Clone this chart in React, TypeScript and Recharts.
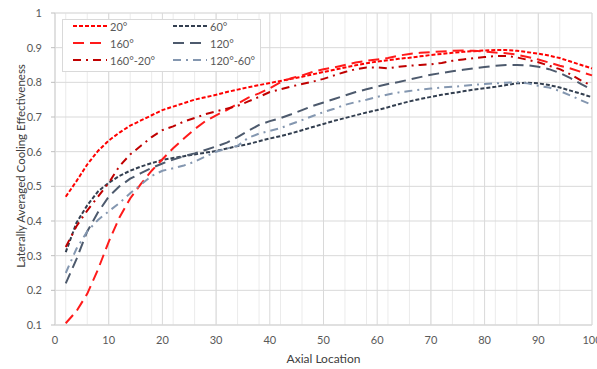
import React from "react";
import {
  LineChart,
  Line,
  XAxis,
  YAxis,
  CartesianGrid,
  Legend,
} from "recharts";

// ---- data ----
const axial: number[] = [
  2, 4, 6, 8, 10, 12, 14, 16, 18, 20, 22, 24, 26, 28, 30, 32, 34, 36, 38, 40,
  42, 44, 46, 48, 50, 52, 54, 56, 58, 60, 62, 64, 66, 68, 70, 72, 74, 76, 78, 80,
  82, 84, 86, 88, 90, 92, 94, 96, 98, 100,
];

const deg20: number[] = [
  0.47, 0.515, 0.563, 0.602, 0.632, 0.655, 0.675, 0.69, 0.705, 0.72, 0.73, 0.74,
  0.75, 0.757, 0.764, 0.772, 0.779, 0.786, 0.792, 0.798, 0.804, 0.81, 0.816,
  0.823, 0.83, 0.836, 0.843, 0.849, 0.855, 0.86, 0.864, 0.868, 0.871, 0.875,
  0.879, 0.882, 0.885, 0.888, 0.89, 0.892, 0.893, 0.893, 0.891, 0.887, 0.883,
  0.877, 0.87, 0.86, 0.85, 0.84,
];

const deg160: number[] = [
  0.105, 0.14, 0.19, 0.26, 0.34, 0.41, 0.465, 0.507, 0.545, 0.578, 0.61, 0.638,
  0.665, 0.688, 0.705, 0.72, 0.738, 0.756, 0.768, 0.783, 0.8, 0.812, 0.82, 0.83,
  0.838, 0.843, 0.85, 0.857, 0.862, 0.866, 0.87, 0.877, 0.882, 0.885, 0.887,
  0.889, 0.891, 0.892, 0.891, 0.889, 0.886, 0.884, 0.88, 0.873, 0.866, 0.857,
  0.848, 0.84, 0.83, 0.82,
];

const deg160m20: number[] = [
  0.325, 0.385, 0.43, 0.47, 0.51, 0.558, 0.592, 0.617, 0.642, 0.662, 0.673,
  0.687, 0.697, 0.708, 0.716, 0.724, 0.732, 0.745, 0.758, 0.772, 0.78, 0.788,
  0.795, 0.802, 0.81, 0.82, 0.83, 0.838, 0.843, 0.843, 0.84, 0.845, 0.848, 0.85,
  0.852, 0.856, 0.862, 0.866, 0.87, 0.873, 0.876, 0.876, 0.872, 0.865, 0.858,
  0.848, 0.838, 0.823, 0.805, 0.79,
];

const deg60: number[] = [
  0.31, 0.395, 0.445, 0.485, 0.51, 0.53, 0.545, 0.557, 0.567, 0.576, 0.582,
  0.587, 0.592, 0.597, 0.602, 0.609, 0.616, 0.622, 0.63, 0.638, 0.645, 0.653,
  0.662, 0.671, 0.68, 0.689, 0.697, 0.705, 0.713, 0.72, 0.728, 0.737, 0.745,
  0.752, 0.758, 0.764, 0.769, 0.774, 0.779, 0.783, 0.787, 0.792, 0.797, 0.799,
  0.797, 0.792, 0.785, 0.776, 0.767, 0.757,
];

const deg120: number[] = [
  0.22, 0.29, 0.37, 0.425, 0.47, 0.5, 0.522, 0.538, 0.553, 0.566, 0.577, 0.587,
  0.595, 0.605, 0.615, 0.626, 0.642, 0.66, 0.677, 0.688, 0.697, 0.708, 0.72,
  0.732, 0.742, 0.752, 0.762, 0.772, 0.78, 0.788, 0.795, 0.801, 0.808, 0.815,
  0.822, 0.827, 0.832, 0.836, 0.84, 0.844, 0.848, 0.85, 0.85, 0.849, 0.845,
  0.838, 0.827, 0.812, 0.795, 0.778,
];

const deg120m60: number[] = [
  0.25, 0.32, 0.37, 0.403, 0.428, 0.452, 0.48, 0.505, 0.53, 0.545, 0.552, 0.56,
  0.571, 0.586, 0.6, 0.609, 0.617, 0.64, 0.652, 0.66, 0.668, 0.68, 0.691, 0.703,
  0.714, 0.724, 0.735, 0.743, 0.75, 0.758, 0.765, 0.771, 0.775, 0.779, 0.782,
  0.785, 0.787, 0.79, 0.793, 0.795, 0.797, 0.799, 0.8, 0.797, 0.79, 0.785, 0.775,
  0.762, 0.748, 0.735,
];

const xTicks: number[] = [0, 10, 20, 30, 40, 50, 60, 70, 80, 90, 100];
const yTicks: number[] = [0.1, 0.2, 0.3, 0.4, 0.5, 0.6, 0.7, 0.8, 0.9, 1];
const xMinorTicks: number[] = Array.from({ length: 51 }, (_, i) => i * 2);
const yMinorTicks: number[] = Array.from({ length: 46 }, (_, i) =>
  Math.round((0.1 + i * 0.02) * 1000) / 1000
);

const xTitle = "Axial Location";
const yTitle = "Laterally Averaged Cooling Effectiveness";

// ---- series styles ----
type SeriesDef = {
  key: string;
  name: string;
  values: number[];
  color: string;
  dash: string;
};

const SHORT = "4 2";
const LONG = "11 6";
const DASHDOT = "8 5 2 5";

const series: SeriesDef[] = [
  { key: "s20", name: "20°", values: deg20, color: "#ff0000", dash: SHORT },
  { key: "s60", name: "60°", values: deg60, color: "#333f50", dash: SHORT },
  { key: "s160", name: "160°", values: deg160, color: "#ff1a1a", dash: LONG },
  { key: "s120", name: "120°", values: deg120, color: "#4d5a6d", dash: LONG },
  { key: "s160m20", name: "160°-20°", values: deg160m20, color: "#c00000", dash: DASHDOT },
  { key: "s120m60", name: "120°-60°", values: deg120m60, color: "#8497b0", dash: DASHDOT },
];

const data = axial.map((x, i) => {
  const row: Record<string, number> = { x };
  series.forEach((s) => {
    row[s.key] = s.values[i];
  });
  return row;
});

const FONT = "Lato, 'Open Sans', sans-serif";
const TEXT = "#595959";

const LegendBox = () => {
  const rows = [0, 1, 2];
  return (
    <div
      style={{
        width: 199,
        height: 53,
        border: "1px solid #d9d9d9",
        background: "#ffffff",
        boxSizing: "border-box",
        position: "relative",
        fontFamily: FONT,
        fontSize: 11,
        color: TEXT,
      }}
    >
      <svg width={197} height={51} style={{ position: "absolute", left: 0, top: 0 }}>
        {rows.map((r) =>
          [0, 1].map((c) => {
            const s = series[r * 2 + c];
            const y = 6 + r * 17;
            const x0 = c === 0 ? 10 : 110;
            return (
              <g key={s.key}>
                <line
                  x1={x0}
                  x2={x0 + 34}
                  y1={y}
                  y2={y}
                  stroke={s.color}
                  strokeWidth={2}
                  strokeDasharray={s.dash}
                />
                <text
                  x={x0 + 37}
                  y={y}
                  dominantBaseline="central"
                  fontFamily={FONT}
                  fontSize={11}
                  fill={TEXT}
                >
                  {s.name}
                </text>
              </g>
            );
          })
        )}
      </svg>
    </div>
  );
};

const YTitle = (props: any) => {
  const vb = props.viewBox || { x: 0, y: 0, width: 0, height: 0 };
  const cx = vb.x + 20;
  const cy = vb.y + vb.height / 2 - 3;
  return (
    <text
      x={cx}
      y={cy}
      transform={`rotate(-90, ${cx}, ${cy})`}
      textAnchor="middle"
      dominantBaseline="central"
      fontFamily={FONT}
      fontSize={11.5}
      fill="#404040"
    >
      {yTitle}
    </text>
  );
};

const XTitle = (props: any) => {
  const vb = props.viewBox || { x: 0, y: 0, width: 0, height: 0 };
  const cx = vb.x + vb.width / 2;
  const cy = vb.y + 33;
  return (
    <text
      x={cx}
      y={cy}
      textAnchor="middle"
      dominantBaseline="central"
      fontFamily={FONT}
      fontSize={12}
      fill="#404040"
    >
      {xTitle}
    </text>
  );
};

export default function App() {
  return (
    <div style={{ position: "absolute", left: 0, top: 0, width: 597, height: 369, background: "#fff" }}>
      <LineChart
        width={597}
        height={369}
        data={data}
        margin={{ top: 13, right: 5, bottom: 14, left: 0 }}
      >
        <CartesianGrid
          xAxisId="minor"
          yAxisId="minor"
          stroke="#ebebeb"
          strokeWidth={1}
        />
        <CartesianGrid xAxisId="main" yAxisId="main" stroke="#d9d9d9" strokeWidth={1} />
        <XAxis
          xAxisId="minor"
          dataKey="x"
          type="number"
          domain={[0, 100]}
          ticks={xMinorTicks}
          hide
        />
        <YAxis
          yAxisId="minor"
          type="number"
          domain={[0.1, 1]}
          ticks={yMinorTicks}
          hide
        />
        <XAxis
          xAxisId="main"
          dataKey="x"
          type="number"
          domain={[0, 100]}
          ticks={xTicks}
          interval={0}
          height={30}
          tickLine={false}
          tickSize={6}
          tickMargin={5}
          axisLine={{ stroke: "#d9d9d9" }}
          tick={{ fill: TEXT, fontSize: 11, fontFamily: FONT }}
          label={{ content: XTitle }}
        />
        <YAxis
          yAxisId="main"
          type="number"
          domain={[0.1, 1]}
          ticks={yTicks}
          interval={0}
          width={55}
          tickSize={4}
          tickMargin={9}
          tickLine={{ stroke: "#bfbfbf" }}
          axisLine={{ stroke: "#d9d9d9" }}
          tick={{ fill: TEXT, fontSize: 11, fontFamily: FONT }}
          tickFormatter={(v: number) => String(Math.round(v * 10) / 10)}
          label={{ content: YTitle }}
        />
        <Legend
          layout="horizontal"
          verticalAlign="middle"
          align="center"
          content={() => <LegendBox />}
          wrapperStyle={{ left: 62, top: 19, width: 199, height: 53 }}
        />
        {series.map((s) => (
          <Line
            key={s.key}
            xAxisId="main"
            yAxisId="main"
            type="linear"
            dataKey={s.key}
            name={s.name}
            stroke={s.color}
            strokeWidth={2}
            strokeDasharray={s.dash}
            dot={false}
            activeDot={false}
            isAnimationActive={false}
          />
        ))}
      </LineChart>
    </div>
  );
}
